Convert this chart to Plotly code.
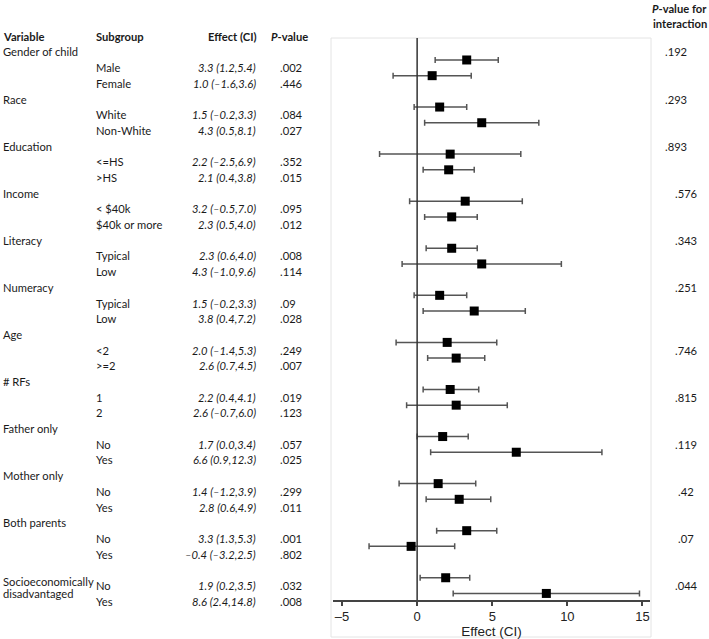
import plotly.graph_objects as go

# ---------------- data ----------------
variables = ["Gender of child", "Race", "Education", "Income", "Literacy", "Numeracy",
             "Age", "# RFs", "Father only", "Mother only", "Both parents",
             "Socioeconomically<br>disadvantaged"]
subgroups = [["Male", "Female"], ["White", "Non-White"], ["<=HS", ">HS"],
             ["< $40k", "$40k or more"], ["Typical", "Low"], ["Typical", "Low"],
             ["<2", ">=2"], ["1", "2"], ["No", "Yes"], ["No", "Yes"], ["No", "Yes"],
             ["No", "Yes"]]
effect = [[3.3, 1.0], [1.5, 4.3], [2.2, 2.1], [3.2, 2.3], [2.3, 4.3], [1.5, 3.8],
          [2.0, 2.6], [2.2, 2.6], [1.7, 6.6], [1.4, 2.8], [3.3, -0.4], [1.9, 8.6]]
ci_low = [[1.2, -1.6], [-0.2, 0.5], [-2.5, 0.4], [-0.5, 0.5], [0.6, -1.0], [-0.2, 0.4],
          [-1.4, 0.7], [0.4, -0.7], [0.0, 0.9], [-1.2, 0.6], [1.3, -3.2], [0.2, 2.4]]
ci_high = [[5.4, 3.6], [3.3, 8.1], [6.9, 3.8], [7.0, 4.0], [4.0, 9.6], [3.3, 7.2],
           [5.3, 4.5], [4.1, 6.0], [3.4, 12.3], [3.9, 4.9], [5.3, 2.5], [3.5, 14.8]]
p_values = [[".002", ".446"], [".084", ".027"], [".352", ".015"], [".095", ".012"],
            [".008", ".114"], [".09", ".028"], [".249", ".007"], [".019", ".123"],
            [".057", ".025"], [".299", ".011"], [".001", ".802"], [".032", ".008"]]
p_interaction = [".192", ".293", ".893", ".576", ".343", ".251", ".746", ".815",
                 ".119", ".42", ".07", ".044"]
x_ticks = [-5, 0, 5, 10, 15]

# ---------------- layout helpers ----------------
W, H = 709, 639
ROW0, DY = 36.3, 15.69          # text row pixel position
MARK0 = 28.6                    # marker row pixel position
PLOT_L, PLOT_R, PLOT_T, PLOT_B = 333, 650, 38, 600
pint_row_shift = [0] * 6 + [1] * 6
pint_x = [676] * 3 + [686] * 9

FONT = "Lato, 'Open Sans', sans-serif"
FS = 11.2
TXT = "#1a1a1a"


def esc(s):
    return s.replace("<", "&lt;").replace(">", "&gt;")


def py(px):
    return 1 - px / H


def fmt_ci(e, lo, hi):
    return f"{e:.1f} ({lo:.1f},{hi:.1f})".replace("-", "\u2013")


ann = []


def add_text(x_px, y_px, text, anchor="left", **font):
    f = dict(family=FONT, size=FS, color=TXT)
    f.update(font)
    ann.append(dict(x=x_px / W, y=py(y_px), xref="paper", yref="paper", text=text,
                    showarrow=False, xanchor=anchor, yanchor="middle", align=anchor,
                    borderpad=0, font=f))


# headers
add_text(2, ROW0, "<b>Variable</b>")
add_text(95, ROW0, "<b>Subgroup</b>")
add_text(258, ROW0, "<b>Effect (CI)</b>", anchor="right")
add_text(270, ROW0, "<b><i>P</i>-value</b>")
add_text(708, 9, "<b><i>P</i>-value for</b>", anchor="right")
add_text(708, 24, "<b>interaction</b>", anchor="right")

xs, ys, em, ep = [], [], [], []
for g, var in enumerate(variables):
    vrow = 1 + 3 * g
    if "<br>" in var:
        line1, line2 = var.split("<br>")
        add_text(2, ROW0 + DY * vrow + 11.5, esc(line1))
        add_text(2, ROW0 + DY * vrow + 24, esc(line2))
    else:
        add_text(2, ROW0 + DY * vrow, esc(var))
    for k in range(2):
        r = vrow + 1 + k
        ypx = ROW0 + DY * r
        add_text(95, ypx, esc(subgroups[g][k]))
        add_text(257, ypx, "<i>" + fmt_ci(effect[g][k], ci_low[g][k], ci_high[g][k]) + "</i>",
                 anchor="right")
        add_text(279, ypx, p_values[g][k])
        xs.append(effect[g][k])
        ys.append(r)
        em.append(effect[g][k] - ci_low[g][k])
        ep.append(ci_high[g][k] - effect[g][k])
    add_text(pint_x[g], ROW0 + DY * (vrow + pint_row_shift[g]), p_interaction[g], anchor="center")

fig = go.Figure()
fig.add_trace(go.Scatter(
    x=xs, y=ys, mode="markers",
    marker=dict(symbol="square", size=9, color="black"),
    error_x=dict(type="data", symmetric=False, array=ep, arrayminus=em,
                 color="#555555", thickness=1.5, width=3),
    hoverinfo="skip", showlegend=False))

# y range so that marker row r sits at MARK0 + DY*r pixels
y_top = (PLOT_T - MARK0) / DY
y_bot = (PLOT_B - MARK0) / DY

shapes = [
    dict(type="rect", xref="paper", yref="paper", x0=331 / W, x1=651 / W, y0=py(637), y1=py(PLOT_T),
         line=dict(color="#e4e4e4", width=1), layer="below"),
    dict(type="line", xref="x", yref="y domain", x0=0, x1=0, y0=0, y1=1,
         line=dict(color="#333333", width=1.5)),
]

fig.update_layout(
    width=W, height=H, margin=dict(l=0, r=0, t=0, b=0),
    paper_bgcolor="white", plot_bgcolor="white",
    annotations=ann, shapes=shapes,
    xaxis=dict(domain=[PLOT_L / W, PLOT_R / W], range=[-5.6, 15.5], tickvals=x_ticks,
               ticktext=[str(t).replace("-", "\u2013") for t in x_ticks],
               showgrid=False, zeroline=False, showline=True, linecolor="#444444", linewidth=1.5,
               ticks="outside", ticklen=4, tickcolor="#444444", tickwidth=1.5,
               tickfont=dict(family="Liberation Sans, Arial, sans-serif", size=13, color="#222222"),
               title=dict(text="Effect (CI)", standoff=0,
                          font=dict(family="Liberation Sans, Arial, sans-serif", size=13.5, color="#222222"))),
    yaxis=dict(domain=[py(PLOT_B), py(PLOT_T)], range=[y_bot, y_top], showgrid=False,
               zeroline=False, showticklabels=False, showline=False, ticks=""),
)

fig.write_html("out.html", config={"displayModeBar": False},
               post_script="document.body.style.margin='0px';")
